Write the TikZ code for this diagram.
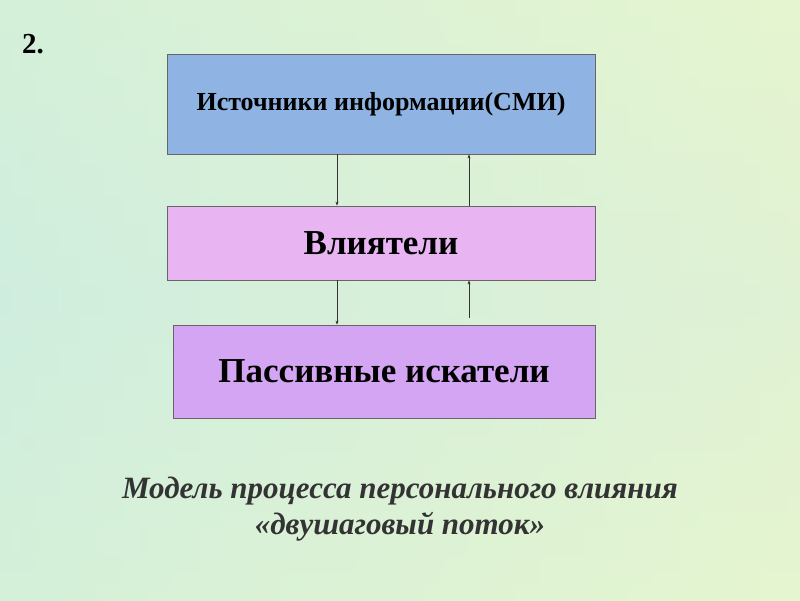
\documentclass[tikz,border=0pt]{standalone}
\usepackage{fontspec}
\usetikzlibrary{arrows.meta}
\setmainfont{Liberation Serif}
\begin{document}
\begin{tikzpicture}[x=1pt,y=-1pt,
  box/.style={draw=black!60,line width=0.8pt,inner sep=0pt,font=\bfseries},
  arr/.style={-{Stealth[length=4pt,width=3pt]},line width=0.5pt,black!80}]
\useasboundingbox (0,0) rectangle (800,600);
\shade[left color={rgb,255:red,200;green,235;blue,220},right color={rgb,255:red,235;green,245;blue,200}] (0,0) rectangle (800,600);
\shade[top color={rgb,255:red,225;green,245;blue,215},bottom color={rgb,255:red,225;green,245;blue,215},middle color={rgb,255:red,215;green,240;blue,225},opacity=0.5] (0,0) rectangle (800,600);
\node[font=\bfseries\fontsize{29}{32}\selectfont,anchor=west,inner sep=0pt] (n) at (22,44) {2.};
\node[box,fill={rgb,255:red,143;green,180;blue,227},minimum width=428,minimum height=100,font=\bfseries\fontsize{26}{30}\selectfont] (a) at (381,104) {Источники информации(СМИ)};
\node[box,fill={rgb,255:red,232;green,180;blue,242},minimum width=428,minimum height=74,font=\bfseries\fontsize{35}{40}\selectfont] (b) at (381,243) {Влиятели};
\node[box,fill={rgb,255:red,212;green,165;blue,242},minimum width=422,minimum height=93,font=\bfseries\fontsize{35}{40}\selectfont] (c) at (384,371.5) {Пассивные искатели};
\draw[arr] (a.south -| 337,0) -- (b.north -| 337,0);
\draw[arr] (b.north -| 469,0) -- (a.south -| 469,0);
\draw[arr] (b.south -| 337,0) -- (c.north -| 337,0);
\coordinate (u) at (469,318);
\draw[arr] (u) -- (b.south -| 469,0);
\node[font=\bfseries\itshape\fontsize{31}{36}\selectfont,text=black!80,align=center] (t) at (400,509) {Модель процесса персонального влияния\\«двушаговый поток»};
\end{tikzpicture}
\end{document}
